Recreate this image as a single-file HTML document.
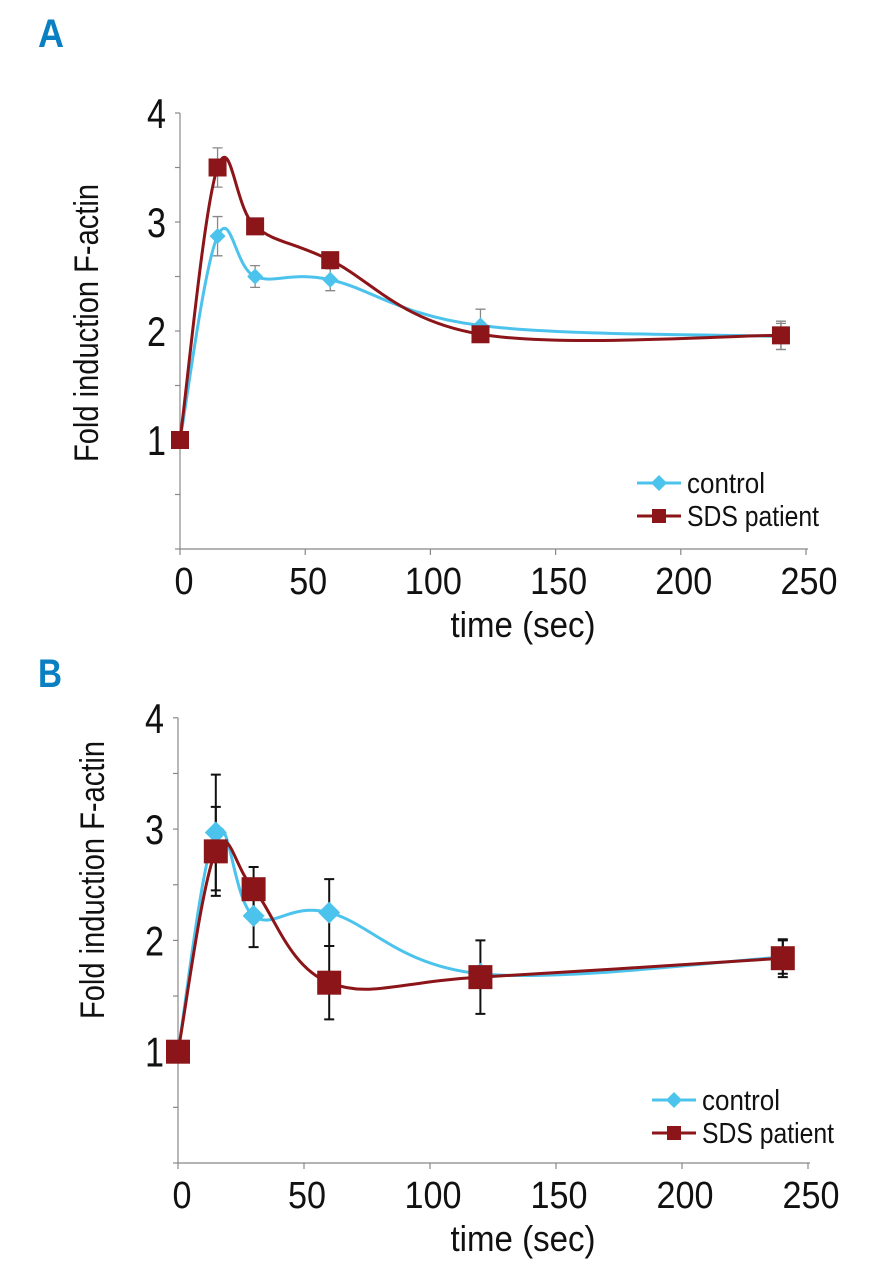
<!DOCTYPE html>
<html><head><meta charset="utf-8"><style>
html,body{margin:0;padding:0;background:#fff;}
svg text{font-family:"Liberation Sans Narrow","Liberation Sans",sans-serif;}
</style></head><body>
<svg id="fig" width="872" height="1280" viewBox="0 0 872 1280" xmlns="http://www.w3.org/2000/svg">
<text x="38" y="47" font-size="40" font-weight="bold" fill="#0a80c2" textLength="26" lengthAdjust="spacingAndGlyphs">A</text>
<text x="38" y="687" font-size="40" font-weight="bold" fill="#0a80c2" textLength="24" lengthAdjust="spacingAndGlyphs">B</text>
</svg>
<script>
const times = [0, 15, 30, 60, 120, 240];
const aControl = [1, 2.87, 2.5, 2.47, 2.05, 1.95];
const aControlErr = [0, 0.18, 0.1, 0.1, 0.15, 0.12];
const aSDS = [1, 3.5, 2.96, 2.65, 1.97, 1.96];
const aSDSErr = [0, 0.18, 0.06, 0, 0, 0.13];
const bControl = [1, 2.97, 2.22, 2.25, 1.7, 1.85];
const bControlErr = [0, 0.52, 0.28, 0.3, 0, 0.15];
const bSDS = [1, 2.8, 2.46, 1.62, 1.67, 1.84];
const bSDSErr = [0, 0.4, 0.2, 0.33, 0.33, 0.17];
const xTicks = [0, 50, 100, 150, 200, 250];
const yTicks = [1, 2, 3, 4];
const yMinor = [0.5, 1.5, 2.5, 3.5];

const NS = "http://www.w3.org/2000/svg";
const svg = document.getElementById('fig');
function mk(tag, attrs, parent){const e=document.createElementNS(NS,tag);for(const k in attrs)e.setAttribute(k,attrs[k]);(parent||svg).appendChild(e);return e;}

function smoothPath(pts){
  let d = `M${pts[0][0]},${pts[0][1]}`;
  for(let i=0;i<pts.length-1;i++){
    const p0=pts[Math.max(0,i-1)],p1=pts[i],p2=pts[i+1],p3=pts[Math.min(pts.length-1,i+2)];
    const t=0.18;
    const c1=[p1[0]+(p2[0]-p0[0])*t,p1[1]+(p2[1]-p0[1])*t];
    const c2=[p2[0]-(p3[0]-p1[0])*t,p2[1]-(p3[1]-p1[1])*t];
    d+=` C${c1[0]},${c1[1]} ${c2[0]},${c2[1]} ${p2[0]},${p2[1]}`;
  }
  return d;
}
function fit(t, len){ t.setAttribute('textLength', len); t.setAttribute('lengthAdjust','spacingAndGlyphs'); }

function panel(cfg){
  const g = mk('g',{});
  
  
  const X = v => cfg.x0 + v*(cfg.x250-cfg.x0)/250;
  const Y = v => cfg.y0 - v*cfg.unit;
  const ax = mk('line',{x1:X(0),y1:Y(0),x2:X(0),y2:Y(4),stroke:'#888','stroke-width':1.2},g);
  
  
  const xa = mk('line',{x1:X(0),y1:Y(0),x2:X(250)+2,y2:Y(0),stroke:'#888','stroke-width':1.2},g);
  
  
  yTicks.concat(yMinor).concat([0]).forEach(v=>{
    mk('line',{x1:X(0)-5,y1:Y(v),x2:X(0),y2:Y(v),stroke:'#888','stroke-width':1.2},g);
  });
  yTicks.forEach(v=>{
    const t=mk('text',{x:X(0)-14,y:Y(v)+15,'font-size':42,'text-anchor':'end',fill:'#111'},g);
    
    
    t.textContent=v;
    fit(t,19);
  });
  xTicks.forEach(v=>{
    mk('line',{x1:X(v),y1:Y(0),x2:X(v),y2:Y(0)+6,stroke:'#888','stroke-width':1.2},g);
    const t=mk('text',{x:X(v)+(v===0?4:3),y:Y(0)+45,'font-size':38,'text-anchor':'middle',fill:'#111'},g);
    
    
    t.textContent=v;
    fit(t, String(v).length*19);
  });
  const xt=mk('text',{x:(X(0)+X(250))/2+30,y:Y(0)+88,'font-size':36,'text-anchor':'middle',fill:'#111'},g);
  
  
  xt.textContent='time (sec)';
  fit(xt,145);
  const yt=mk('text',{x:0,y:0,'font-size':34,'text-anchor':'middle',fill:'#111',transform:`translate(${cfg.ytx},${cfg.yty}) rotate(-90)`},g);
  
  
  yt.textContent='Fold induction F-actin';
  fit(yt,cfg.ytl);

  const series=[
    {vals:cfg.ctrl,err:cfg.ctrlErr,color:'#4cc3ec',shape:'diamond',name:'control'},
    {vals:cfg.sds,err:cfg.sdsErr,color:'#8b1518',shape:'square',name:'sds-patient'}
  ];
  series.forEach(s=>{
    s.err.forEach((e,i)=>{
      if(!e) return;
      const x=X(times[i]);
      const eb=mk('path',{d:`M${x},${Y(s.vals[i]+e)}V${Y(s.vals[i]-e)}M${x-5},${Y(s.vals[i]+e)}h10M${x-5},${Y(s.vals[i]-e)}h10`,stroke:cfg.errColor,'stroke-width':cfg.errW,fill:'none'},g);
      
      
    });
  });
  series.forEach(s=>{
    const pts=times.map((t,i)=>[X(t),Y(s.vals[i])]);
    const p=mk('path',{d:smoothPath(pts),stroke:s.color,'stroke-width':3,fill:'none'},g);
    
    
    pts.forEach(pt=>{
      let m;
      const r=s.shape==='square'?cfg.sq:cfg.di;
      if(s.shape==='square') m=mk('rect',{x:pt[0]-r,y:pt[1]-r,width:2*r,height:2*r,fill:s.color},g);
      else m=mk('path',{d:`M${pt[0]},${pt[1]-r}L${pt[0]+r},${pt[1]}L${pt[0]},${pt[1]+r}L${pt[0]-r},${pt[1]}Z`,fill:s.color},g);
      
      
    });
  });
  const L=cfg.leg;
  [['control','#4cc3ec','diamond',0,78],['SDS patient','#8b1518','square',33,132]].forEach(([lab,c,sh,dy,len])=>{
    const ly=L.y+dy;
    mk('line',{x1:L.x,y1:ly,x2:L.x+44,y2:ly,stroke:c,'stroke-width':3},g);
    let m;
    if(sh==='square') m=mk('rect',{x:L.x+15,y:ly-7,width:14,height:14,fill:c},g);
    else m=mk('path',{d:`M${L.x+22},${ly-8}L${L.x+30},${ly}L${L.x+22},${ly+8}L${L.x+14},${ly}Z`,fill:c},g);
    
    
    const t=mk('text',{x:L.x+50,y:ly+10,'font-size':29,fill:'#111'},g);
    
    
    t.textContent=lab;
    fit(t,len);
  });
}

panel({name:'panel-a-chart',x0:180,x250:806,y0:549,unit:109,ytx:98,yty:323,ytl:278,ctrl:aControl,ctrlErr:aControlErr,sds:aSDS,sdsErr:aSDSErr,errColor:'#888',errW:1.3,sq:9,di:8,leg:{x:637,y:483}});
panel({name:'panel-b-chart',x0:178,x250:808,y0:1163,unit:111.3,ytx:104,yty:880,ytl:278,ctrl:bControl,ctrlErr:bControlErr,sds:bSDS,sdsErr:bSDSErr,errColor:'#111',errW:2,sq:12,di:11,leg:{x:652,y:1100}});
</script>
</body></html>
